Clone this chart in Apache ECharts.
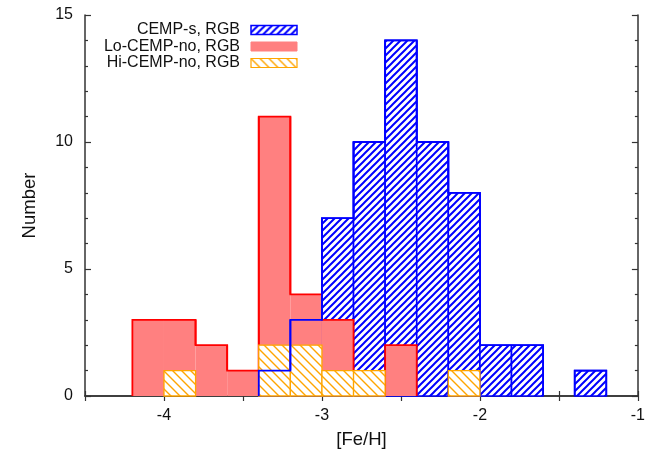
<!DOCTYPE html>
<html>
<head>
<meta charset="utf-8">
<script src="https://cdn.jsdelivr.net/npm/echarts@6/dist/echarts.min.js"></script>
<style>
  html, body { margin: 0; padding: 0; background: #fff; }
  #chart { width: 648px; height: 454px; }
</style>
</head>
<body>
<div id="chart"></div>
<script>
// Histogram of [Fe/H] for three RGB samples, bin width 0.2 dex
const BIN = 0.2;

// CEMP-s, RGB
const cempSBins   = [-3.4, -3.2, -3.0, -2.8, -2.6, -2.4, -2.2, -2.0, -1.8, -1.6, -1.4];
const cempSCounts = [1, 3, 7, 10, 14, 10, 8, 2, 2, 0, 1];

// Lo-CEMP-no, RGB
const loBins   = [-4.2, -4.0, -3.8, -3.6, -3.4, -3.2, -3.0, -2.8, -2.6];
const loCounts = [3, 3, 2, 1, 11, 4, 3, 0, 2];

// Hi-CEMP-no, RGB
const hiBins   = [-4.0, -3.4, -3.2, -3.0, -2.8, -2.2];
const hiCounts = [1, 2, 2, 1, 1, 1];

// Axis ticks
const xTicks = [-4, -3, -2, -1];
const yTicks = [0, 5, 10, 15];

const seriesNames = ['CEMP-s, RGB', 'Lo-CEMP-no, RGB', 'Hi-CEMP-no, RGB'];

const BLUE = '#0000ff';
const RED_LINE = '#ff0000';
const RED_FILL = '#ff8080';
const ORANGE = '#ffa500';

// Diagonal hatch tile; dir '/' rises to the right, '\' falls to the right
function hatch(color, size, lw, dir) {
  const c = document.createElement('canvas');
  c.width = c.height = size;
  const g = c.getContext('2d');
  g.fillStyle = '#fff';
  g.fillRect(0, 0, size, size);
  g.strokeStyle = color;
  g.lineWidth = lw;
  g.beginPath();
  const s = size;
  if (dir === '/') {
    g.moveTo(0, s); g.lineTo(s, 0);
    g.moveTo(-s / 2, s / 2); g.lineTo(s / 2, -s / 2);
    g.moveTo(s / 2, 1.5 * s); g.lineTo(1.5 * s, s / 2);
  } else {
    g.moveTo(0, 0); g.lineTo(s, s);
    g.moveTo(-s / 2, s / 2); g.lineTo(s / 2, 1.5 * s);
    g.moveTo(s / 2, -s / 2); g.lineTo(1.5 * s, s / 2);
  }
  g.stroke();
  return { image: c, repeat: 'repeat' };
}

const blueHatch = hatch(BLUE, 7, 2, '/');
const orangeHatch = hatch(ORANGE, 9, 1.4, '\\');

function toData(bins, counts) {
  return bins.map((b, i) => [b, counts[i]]);
}

// Step outline data: [start, count, countOfBinBefore, countOfBinAfter]
function toOutline(bins, counts) {
  return bins.map((b, i) => {
    const prev = (i > 0 && Math.abs(bins[i - 1] + BIN - b) < 1e-6) ? counts[i - 1] : 0;
    const next = (i < bins.length - 1 && Math.abs(b + BIN - bins[i + 1]) < 1e-6) ? counts[i + 1] : 0;
    return [b, counts[i], prev, next];
  });
}

function boxRenderer(style) {
  return function (params, api) {
    const x0 = api.value(0), v = api.value(1);
    if (!v) return null;
    const p0 = api.coord([x0, 0]);
    const p1 = api.coord([x0 + BIN, v]);
    return {
      type: 'rect',
      shape: { x: p0[0], y: p1[1], width: p1[0] - p0[0], height: p0[1] - p1[1] },
      style: Object.assign({}, style)
    };
  };
}

function outlineRenderer(color, width) {
  return function (params, api) {
    const x0 = api.value(0), v = api.value(1), prev = api.value(2), next = api.value(3);
    if (!v) return null;
    const pts = [
      api.coord([x0, prev]), api.coord([x0, v]),
      api.coord([x0 + BIN, v]), api.coord([x0 + BIN, next])
    ];
    return {
      type: 'polyline',
      shape: { points: pts },
      style: { stroke: color, lineWidth: width, fill: null, lineJoin: 'miter' }
    };
  };
}

const chart = echarts.init(document.getElementById('chart'), null, { renderer: 'canvas' });

const FONT = '"Liberation Sans", Arial, Helvetica, sans-serif';
const axisLine = { show: true, lineStyle: { color: '#333', width: 1.5 } };

const isTick = (list, v) => list.some(t => Math.abs(t - v) < 1e-6);

const legendRows = [
  { name: seriesNames[0], y: 30, fill: blueHatch, stroke: BLUE, lw: 1.5 },
  { name: seriesNames[1], y: 46.5, fill: RED_FILL, stroke: RED_FILL, lw: 1 },
  { name: seriesNames[2], y: 63, fill: orangeHatch, stroke: ORANGE, lw: 1.2 }
];

const legendGraphics = [];
legendRows.forEach(r => {
  legendGraphics.push({
    type: 'text', x: 240, y: r.y, z: 100,
    style: { text: r.name, font: '16px ' + FONT, fill: '#111', align: 'right', verticalAlign: 'middle' }
  });
  legendGraphics.push({
    type: 'rect', x: 251, y: r.y - 4.5, z: 100,
    shape: { width: 46, height: 9 },
    style: { fill: r.fill, stroke: r.stroke, lineWidth: r.lw }
  });
});

chart.setOption({
  animation: false,
  backgroundColor: '#fff',
  grid: { left: 85, right: 7, top: 15, bottom: 52, containLabel: false },
  xAxis: [
    {
      type: 'value', min: -4.5, max: -1, interval: 0.5,
      name: '[Fe/H]', nameLocation: 'middle', nameGap: 34,
      nameTextStyle: { fontFamily: FONT, fontSize: 18.5, color: '#111' },
      axisLine: axisLine,
      axisTick: { show: true, inside: true, length: 5, lineStyle: { color: '#333', width: 1.2 } },
      axisLabel: {
        fontFamily: FONT, fontSize: 16, color: '#111', margin: 12,
        formatter: v => isTick(xTicks, v) ? String(Math.round(v)) : ''
      },
      splitLine: { show: false }
    },
    {
      type: 'value', position: 'top', min: -4.5, max: -1, interval: 0.5,
      axisLine: axisLine,
      axisTick: { show: true, inside: true, length: 5, lineStyle: { color: '#333', width: 1.2 } },
      axisLabel: { show: false },
      splitLine: { show: false }
    }
  ],
  yAxis: [
    {
      type: 'value', min: 0, max: 15, interval: 5,
      name: 'Number', nameLocation: 'middle', nameGap: 46,
      nameTextStyle: { fontFamily: FONT, fontSize: 18.5, color: '#111' },
      axisLine: axisLine,
      axisTick: { show: true, inside: true, length: 6, lineStyle: { color: '#333', width: 1.2 } },
      minorTick: { show: true, splitNumber: 5, length: 3, lineStyle: { color: '#333', width: 1.2 } },
      axisLabel: {
        fontFamily: FONT, fontSize: 16, color: '#111', margin: 12,
        formatter: v => isTick(yTicks, v) ? String(v) : ''
      },
      splitLine: { show: false }
    },
    {
      type: 'value', position: 'right', min: 0, max: 15, interval: 5,
      axisLine: axisLine,
      axisTick: { show: true, inside: true, length: 6, lineStyle: { color: '#333', width: 1.2 } },
      minorTick: { show: true, splitNumber: 5, length: 3, lineStyle: { color: '#333', width: 1.2 } },
      axisLabel: { show: false },
      splitLine: { show: false }
    }
  ],
  graphic: legendGraphics,
  series: [
    {
      name: seriesNames[0], type: 'custom', z: 2, xAxisIndex: 0, yAxisIndex: 0,
      data: toData(cempSBins, cempSCounts),
      renderItem: boxRenderer({ fill: blueHatch, stroke: BLUE, lineWidth: 1.6 })
    },
    {
      name: seriesNames[1], type: 'custom', z: 3,
      data: toData(loBins, loCounts),
      renderItem: boxRenderer({ fill: RED_FILL, stroke: null, lineWidth: 0 })
    },
    {
      name: seriesNames[1] + ' outline', type: 'custom', z: 4,
      data: toOutline(loBins, loCounts),
      renderItem: outlineRenderer(RED_LINE, 1.8)
    },
    {
      name: seriesNames[2], type: 'custom', z: 5,
      data: toData(hiBins, hiCounts),
      renderItem: boxRenderer({ fill: orangeHatch, stroke: ORANGE, lineWidth: 1.3 })
    },
    {
      name: seriesNames[0] + ' outline', type: 'custom', z: 6,
      data: toOutline(cempSBins, cempSCounts),
      renderItem: outlineRenderer(BLUE, 1.8)
    }
  ]
});
</script>
</body>
</html>
